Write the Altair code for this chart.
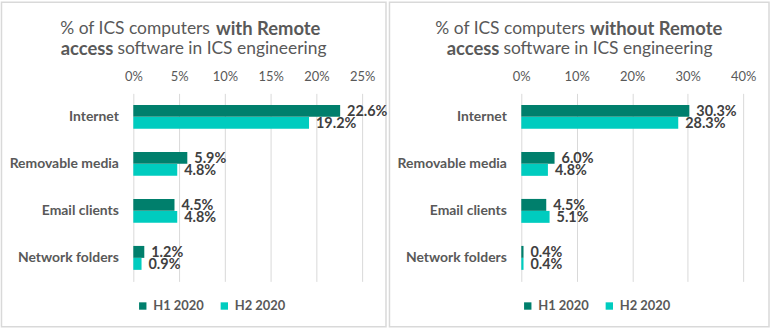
import altair as alt
import pandas as pd

categories = ["Internet", "Removable media", "Email clients", "Network folders"]
series = ["H1 2020", "H2 2020"]
with_h1 = [22.6, 5.9, 4.5, 1.2]
with_h2 = [19.2, 4.8, 4.8, 0.9]
without_h1 = [30.3, 6.0, 4.5, 0.4]
without_h2 = [28.3, 4.8, 5.1, 0.4]
with_ticks = [0, 5, 10, 15, 20, 25]
without_ticks = [0, 10, 20, 30, 40]

FONT = "Lato"
GRAY = "#595959"
colors = ["#007F6C", "#00CCBF"]


def frame(h1, h2):
    rows = []
    for c, a, b in zip(categories, h1, h2):
        rows.append({"cat": c, "series": series[0], "value": a})
        rows.append({"cat": c, "series": series[1], "value": b})
    return pd.DataFrame(rows)


def txt(text, x, y, bold, align):
    return alt.Chart(pd.DataFrame({"t": [text]})).mark_text(
        font=FONT, fontSize=18.5 if bold else 17.5, color=GRAY,
        fontWeight="bold" if bold else "normal",
        align=align, baseline="middle"
    ).encode(x=alt.value(x), y=alt.value(y), text="t:N")


def panel(h1, h2, ticks, width, right_edge, title_parts, legend_x):
    df = frame(h1, h2)
    dmax = ticks[-1]
    y = alt.Y("cat:N", sort=categories, title=None,
              scale=alt.Scale(paddingInner=0.49, paddingOuter=0.245),
              axis=alt.Axis(domain=False, ticks=False, labelPadding=15,
                            labelFont=FONT, labelFontSize=14, labelFontWeight="bold",
                            labelColor=GRAY))
    x = alt.X("value:Q", title=None,
              scale=alt.Scale(domain=[0, dmax], nice=False, zero=True),
              axis=alt.Axis(orient="top", values=ticks, domain=False, ticks=False,
                            grid=True, gridColor="#D9D9D9", gridWidth=1,
                            labelFlush=False, labelOverlap=False,
                            labelExpr="datum.value + '%'", labelPadding=10,
                            labelFont=FONT, labelFontSize=13, labelColor=GRAY))
    base = alt.Chart(df)
    bars = base.mark_bar(size=12).encode(
        x=x, y=y,
        yOffset=alt.YOffset("series:N", sort=series),
        color=alt.Color("series:N", sort=series,
                        scale=alt.Scale(domain=series, range=colors),
                        legend=alt.Legend(orient="none", legendX=legend_x, legendY=207,
                                          direction="horizontal", title=None,
                                          symbolType="square", symbolSize=55,
                                          symbolStrokeWidth=0,
                                          labelFont=FONT, labelFontSize=13,
                                          labelFontWeight="bold", labelColor=GRAY,
                                          labelOffset=4, columnPadding=14)),
    )
    labels = base.transform_calculate(
        lab="format(datum.value, '.1f') + '%'"
    ).mark_text(align="left", baseline="middle", dx=7, dy=1, font=FONT, fontSize=14.5,
                fontWeight="bold", color="#404040").encode(
        x="value:Q", y=alt.Y("cat:N", sort=categories),
        yOffset=alt.YOffset("series:N", sort=series), text="lab:N")
    border = alt.Chart(pd.DataFrame({"b": [0]})).mark_rect(
        fill="transparent", stroke="#D9D9D9", strokeWidth=1.5
    ).encode(x=alt.value(-132.5), x2=alt.value(right_edge),
             y=alt.value(-91.5), y2=alt.value(234.5))
    layers = [border, bars, labels] + [txt(*p) for p in title_parts]
    return alt.layer(*layers).properties(width=width, height=189)


left = panel(with_h1, with_h2, with_ticks, 230, 254, [
    ("% of ICS computers", 77, -65, False, "right"),
    ("with Remote", 83, -65, True, "left"),
    ("access", -20, -45, True, "right"),
    ("software in ICS engineering", -16, -45, False, "left"),
], 3)

right = panel(without_h1, without_h2, without_ticks, 223, 249, [
    ("% of ICS computers", 64, -65, False, "right"),
    ("without Remote", 69, -65, True, "left"),
    ("access", -22, -45, True, "right"),
    ("software in ICS engineering", -18, -45, False, "left"),
], 0)

chart = alt.hconcat(left, right, spacing=0).resolve_scale(
    color="independent"
).resolve_legend(color="independent").properties(
    padding=0, background="white"
).configure_view(stroke=None)

chart.save("out.html", embed_options={"renderer": "svg", "actions": False})
